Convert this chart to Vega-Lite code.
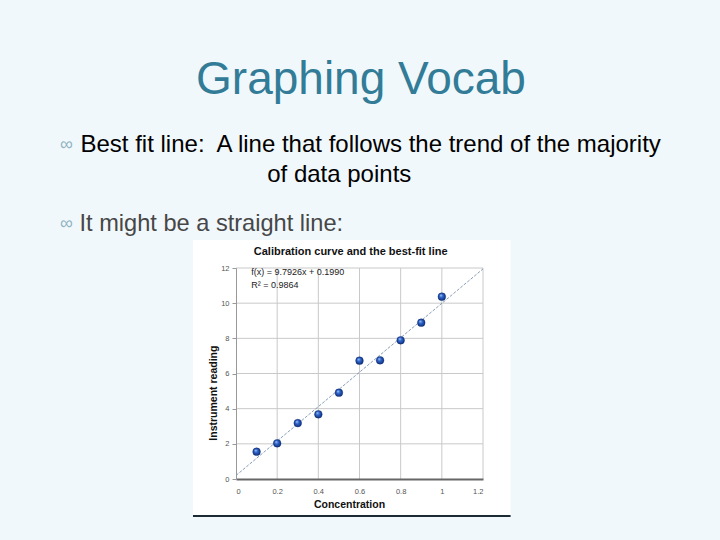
{
  "$schema": "https://vega.github.io/schema/vega-lite/v6.json",
  "width": 247,
  "height": 211,
  "autosize": {"type": "none"},
  "padding": {"left": 236, "top": 268, "right": 237, "bottom": 61},
  "background": "#f1f8fb",
  "config": {"font": "Liberation Sans", "view": {"stroke": null}},
  "title": {
    "text": "Graphing Vocab",
    "font": "Liberation Sans",
    "fontSize": 46,
    "fontWeight": "normal",
    "color": "#327c98",
    "anchor": "middle",
    "frame": "group",
    "baseline": "alphabetic",
    "dx": 1.5,
    "offset": -7
  },
  "datasets": {
    "points": [
      {"concentration": 0.1, "reading": 1.55},
      {"concentration": 0.2, "reading": 2.03},
      {"concentration": 0.3, "reading": 3.18},
      {"concentration": 0.4, "reading": 3.68},
      {"concentration": 0.5, "reading": 4.91},
      {"concentration": 0.6, "reading": 6.73},
      {"concentration": 0.7, "reading": 6.75},
      {"concentration": 0.8, "reading": 7.89},
      {"concentration": 0.9, "reading": 8.89},
      {"concentration": 1.0, "reading": 10.37}
    ],
    "xgrid": [{"v": 0.2}, {"v": 0.4}, {"v": 0.6}, {"v": 0.8}, {"v": 1.0}, {"v": 1.2}],
    "ygrid": [{"v": 2}, {"v": 4}, {"v": 6}, {"v": 8}, {"v": 10}, {"v": 12}]
  },
  "resolve": {"axis": {"x": "independent", "y": "independent"}},
  "layer": [
    {
      "data": {"values": [{}]},
      "mark": {"type": "rect", "color": "#ffffff", "clip": false},
      "encoding": {
        "x": {"datum": -0.209, "type": "quantitative", "scale": {"domain": [0, 1.2], "nice": false, "zero": false}, "axis": null},
        "x2": {"datum": 1.334},
        "y": {"datum": -2.06, "type": "quantitative", "scale": {"domain": [0, 12], "nice": false, "zero": false}, "axis": null},
        "y2": {"datum": 13.59}
      }
    },
    {
      "data": {"values": [{}]},
      "mark": {"type": "rule", "color": "#1c2b33", "strokeWidth": 2},
      "encoding": {
        "x": {"datum": -0.209, "type": "quantitative", "axis": null},
        "x2": {"datum": 1.334},
        "y": {"datum": -2.1, "type": "quantitative", "axis": null}
      }
    },
    {
      "data": {"name": "xgrid"},
      "mark": {"type": "rule", "color": "#c9c9c9", "strokeWidth": 1},
      "encoding": {
        "x": {"field": "v", "type": "quantitative", "axis": null}
      }
    },
    {
      "data": {"name": "ygrid"},
      "mark": {"type": "rule", "color": "#c9c9c9", "strokeWidth": 1},
      "encoding": {
        "y": {"field": "v", "type": "quantitative", "axis": null}
      }
    },
    {
      "data": {"values": [{}]},
      "mark": {"type": "rule", "color": "#6a86a6", "strokeWidth": 0.8, "strokeDash": [3, 1.5]},
      "encoding": {
        "x": {
          "datum": 0,
          "type": "quantitative",
          "axis": {
            "orient": "top",
            "domain": false,
            "ticks": false,
            "labels": false,
            "grid": false,
            "title": [
              "Best fit line:\u00a0 A line that follows the trend of the majority",
              "\u200b\u00a0\u00a0\u00a0\u00a0\u00a0\u00a0\u00a0\u00a0\u00a0\u00a0\u00a0\u00a0\u00a0\u00a0\u00a0\u00a0\u00a0\u00a0\u00a0\u00a0\u00a0\u00a0\u00a0\u00a0\u00a0\u00a0\u00a0\u00a0of data points"
            ],
            "titleFont": "Liberation Sans",
            "titleFontSize": 24,
            "titleFontWeight": "normal",
            "titleColor": "#000000",
            "titleAlign": "left",
            "titleBaseline": "alphabetic",
            "titleAngle": 0,
            "titleX": -156,
            "titleY": -116.5,
            "titleLineHeight": 30.2,
            "zindex": 1
          }
        },
        "x2": {"datum": 1.2},
        "y": {
          "datum": 0.199,
          "type": "quantitative",
          "axis": {
            "orient": "right",
            "domain": false,
            "ticks": false,
            "labels": false,
            "grid": false,
            "title": "It might be a straight line:",
            "titleFont": "Liberation Sans",
            "titleFontSize": 23.6,
            "titleFontWeight": "normal",
            "titleColor": "#474747",
            "titleAlign": "left",
            "titleBaseline": "alphabetic",
            "titleAngle": 0,
            "titleX": -404,
            "titleY": -37.3,
            "zindex": 1
          }
        },
        "y2": {"datum": 11.95}
      }
    },
    {
      "data": {"name": "points"},
      "mark": {
        "type": "circle",
        "size": 60,
        "opacity": 1,
        "stroke": "#0d2c6e",
        "strokeWidth": 0.4,
        "fill": {
          "gradient": "radial",
          "x1": 0.36, "y1": 0.3, "r1": 0,
          "x2": 0.5, "y2": 0.5, "r2": 0.55,
          "stops": [
            {"offset": 0, "color": "#b7d2ff"},
            {"offset": 0.4, "color": "#2f66cc"},
            {"offset": 1, "color": "#0c2a73"}
          ]
        }
      },
      "encoding": {
        "x": {
          "field": "concentration",
          "type": "quantitative",
          "scale": {"domain": [0, 1.2], "nice": false, "zero": false},
          "axis": {
            "orient": "bottom",
            "values": [0, 0.2, 0.4, 0.6, 0.8, 1, 1.2],
            "format": "~g",
            "grid": false,
            "domainColor": "#666666",
            "domainWidth": 2,
            "ticks": false,
            "labelFontSize": 7.5,
            "labelColor": "#555555",
            "labelPadding": 8,
            "title": "Concentration",
            "titleFontSize": 10.5,
            "titleFontWeight": "bold",
            "titleColor": "#111111",
            "titleBaseline": "alphabetic",
            "titleX": 113,
            "titleY": 28.7,
            "zindex": 1
          }
        },
        "y": {
          "field": "reading",
          "type": "quantitative",
          "scale": {"domain": [0, 12], "nice": false, "zero": false},
          "axis": {
            "orient": "left",
            "values": [0, 2, 4, 6, 8, 10, 12],
            "grid": false,
            "domainColor": "#999999",
            "tickColor": "#999999",
            "tickSize": 4,
            "labelFontSize": 7.5,
            "labelColor": "#555555",
            "labelPadding": 3,
            "title": "Instrument reading",
            "titleFontSize": 10.5,
            "titleFontWeight": "bold",
            "titleColor": "#111111",
            "titleBaseline": "alphabetic",
            "titleAlign": "center",
            "titleX": -20,
            "titleY": 124.6,
            "zindex": 1
          }
        }
      }
    },
    {
      "data": {"values": [{}]},
      "mark": {"type": "text", "text": "Calibration curve and the best-fit line", "fontSize": 11, "fontWeight": "bold", "color": "#111111", "align": "center", "baseline": "alphabetic"},
      "encoding": {
        "x": {"datum": 0.557, "type": "quantitative", "axis": null},
        "y": {"datum": 12.72, "type": "quantitative", "axis": null}
      }
    },
    {
      "data": {"values": [{}]},
      "mark": {"type": "text", "text": "f(x) = 9.7926x + 0.1990", "fontSize": 9, "color": "#222222", "align": "left", "baseline": "alphabetic"},
      "encoding": {
        "x": {"datum": 0.074, "type": "quantitative", "axis": null},
        "y": {"datum": 11.59, "type": "quantitative", "axis": null}
      }
    },
    {
      "data": {"values": [{}]},
      "mark": {"type": "text", "text": "R² = 0.9864", "fontSize": 9, "color": "#222222", "align": "left", "baseline": "alphabetic"},
      "encoding": {
        "x": {"datum": 0.074, "type": "quantitative", "axis": null},
        "y": {"datum": 10.86, "type": "quantitative", "axis": null}
      }
    },
    {
      "data": {"values": [{}]},
      "mark": {"type": "text", "text": "∞", "fontSize": 18, "color": "#8fb3c2", "align": "center", "baseline": "middle"},
      "encoding": {
        "x": {"datum": -0.824, "type": "quantitative", "axis": null},
        "y": {"datum": 19.0, "type": "quantitative", "axis": null}
      }
    },
    {
      "data": {"values": [{}]},
      "mark": {"type": "text", "text": "∞", "fontSize": 18, "color": "#8fb3c2", "align": "center", "baseline": "middle"},
      "encoding": {
        "x": {"datum": -0.824, "type": "quantitative", "axis": null},
        "y": {"datum": 14.53, "type": "quantitative", "axis": null}
      }
    }
  ]
}
